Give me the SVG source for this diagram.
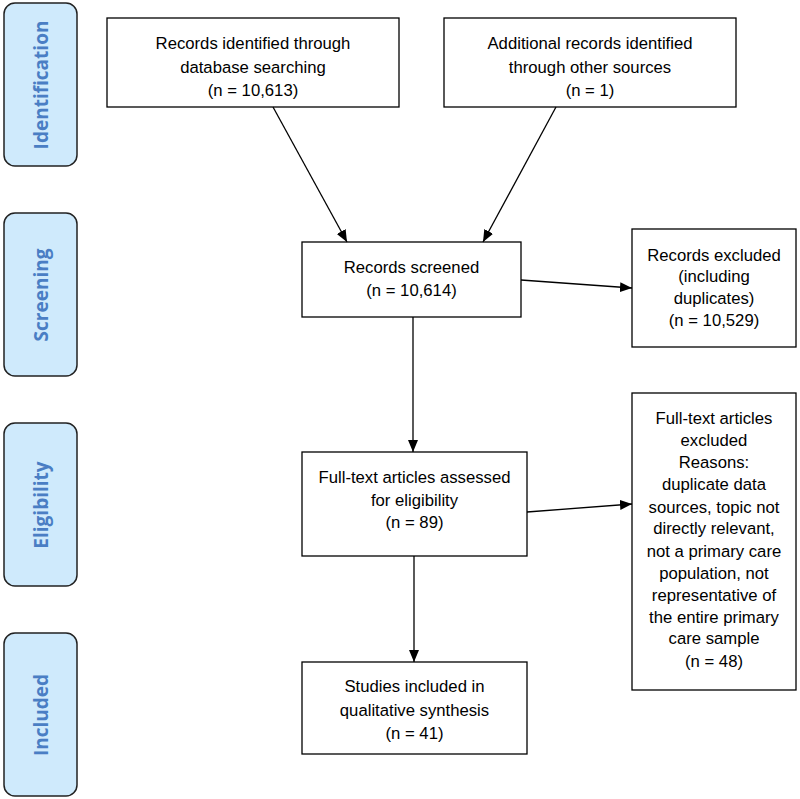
<svg xmlns="http://www.w3.org/2000/svg" width="800" height="799" viewBox="0 0 800 799">
<style>
.box{fill:#fff;stroke:#000;stroke-width:1.3}
.phase{fill:#cfeafc;stroke:#222;stroke-width:1.5}
.t{font-family:"Liberation Sans",Arial,sans-serif;font-size:16.7px;fill:#000;text-anchor:middle;dominant-baseline:central}
.p{font-family:"Open Sans","Liberation Sans",sans-serif;font-size:19px;font-weight:bold;fill:#4a7ec4;text-anchor:middle;dominant-baseline:central}
.c{stroke:#000;stroke-width:1.3;fill:none;marker-end:url(#ah)}
</style>
<defs>
<marker id="ah" markerWidth="12" markerHeight="12" viewBox="0 0 12 12" refX="12" refY="6" orient="auto" markerUnits="userSpaceOnUse">
<path d="M0,1 L12,6 L0,11 z" fill="#000"/>
</marker>
</defs>
<rect width="800" height="799" fill="#fff"/>
<g id="phase-identification"><rect class="phase" x="4" y="3" width="73" height="163" rx="11"/><text class="p" transform="translate(40.5,85) rotate(-90)">Identification</text></g>
<g id="phase-screening"><rect class="phase" x="4" y="213" width="73" height="163" rx="11"/><text class="p" transform="translate(40.5,295) rotate(-90)">Screening</text></g>
<g id="phase-eligibility"><rect class="phase" x="4" y="423" width="73" height="163" rx="11"/><text class="p" transform="translate(40.5,505) rotate(-90)">Eligibility</text></g>
<g id="phase-included"><rect class="phase" x="4" y="633" width="73" height="163" rx="11"/><text class="p" transform="translate(40.5,715) rotate(-90)">Included</text></g>

<g id="db"><rect class="box" x="107" y="18" width="292" height="89"/>
<text class="t" x="253" y="43">Records identified through</text>
<text class="t" x="253" y="67">database searching</text>
<text class="t" x="253" y="90">(n = 10,613)</text></g>
<g id="other"><rect class="box" x="444" y="18" width="292" height="89"/>
<text class="t" x="590" y="43">Additional records identified</text>
<text class="t" x="590" y="67">through other sources</text>
<text class="t" x="590" y="90">(n = 1)</text></g>
<g id="screened"><rect class="box" x="302" y="242" width="219" height="75"/>
<text class="t" x="411.5" y="267">Records screened</text>
<text class="t" x="411.5" y="290">(n = 10,614)</text></g>
<g id="excluded1"><rect class="box" x="632" y="229" width="164" height="118"/>
<text class="t" x="714" y="255">Records excluded</text>
<text class="t" x="714" y="276">(including</text>
<text class="t" x="714" y="298">duplicates)</text>
<text class="t" x="714" y="320">(n = 10,529)</text></g>
<g id="fulltext"><rect class="box" x="302" y="452" width="225" height="104"/>
<text class="t" x="414.5" y="477">Full-text articles assessed</text>
<text class="t" x="414.5" y="500">for eligibility</text>
<text class="t" x="414.5" y="522">(n = 89)</text></g>
<g id="excluded2"><rect class="box" x="632" y="393" width="164" height="297"/>
<text class="t" x="714" y="418">Full-text articles</text>
<text class="t" x="714" y="440">excluded</text>
<text class="t" x="714" y="462">Reasons:</text>
<text class="t" x="714" y="484">duplicate data</text>
<text class="t" x="714" y="507">sources, topic not</text>
<text class="t" x="714" y="528">directly relevant,</text>
<text class="t" x="714" y="551">not a primary care</text>
<text class="t" x="714" y="573">population, not</text>
<text class="t" x="714" y="595">representative of</text>
<text class="t" x="714" y="617">the entire primary</text>
<text class="t" x="714" y="638">care sample</text>
<text class="t" x="714" y="661">(n = 48)</text></g>
<g id="included"><rect class="box" x="302" y="662" width="225" height="92"/>
<text class="t" x="414.5" y="686">Studies included in</text>
<text class="t" x="414.5" y="710">qualitative synthesis</text>
<text class="t" x="414.5" y="733">(n = 41)</text></g>

<g id="connectors">
<line class="c" x1="273" y1="107" x2="347" y2="242"/>
<line class="c" x1="556" y1="107" x2="483" y2="242"/>
<line class="c" x1="521" y1="280" x2="632" y2="288"/>
<line class="c" x1="413" y1="317" x2="413" y2="452"/>
<line class="c" x1="527" y1="512" x2="632" y2="504"/>
<line class="c" x1="414" y1="556" x2="414" y2="662"/>
</g>
</svg>
